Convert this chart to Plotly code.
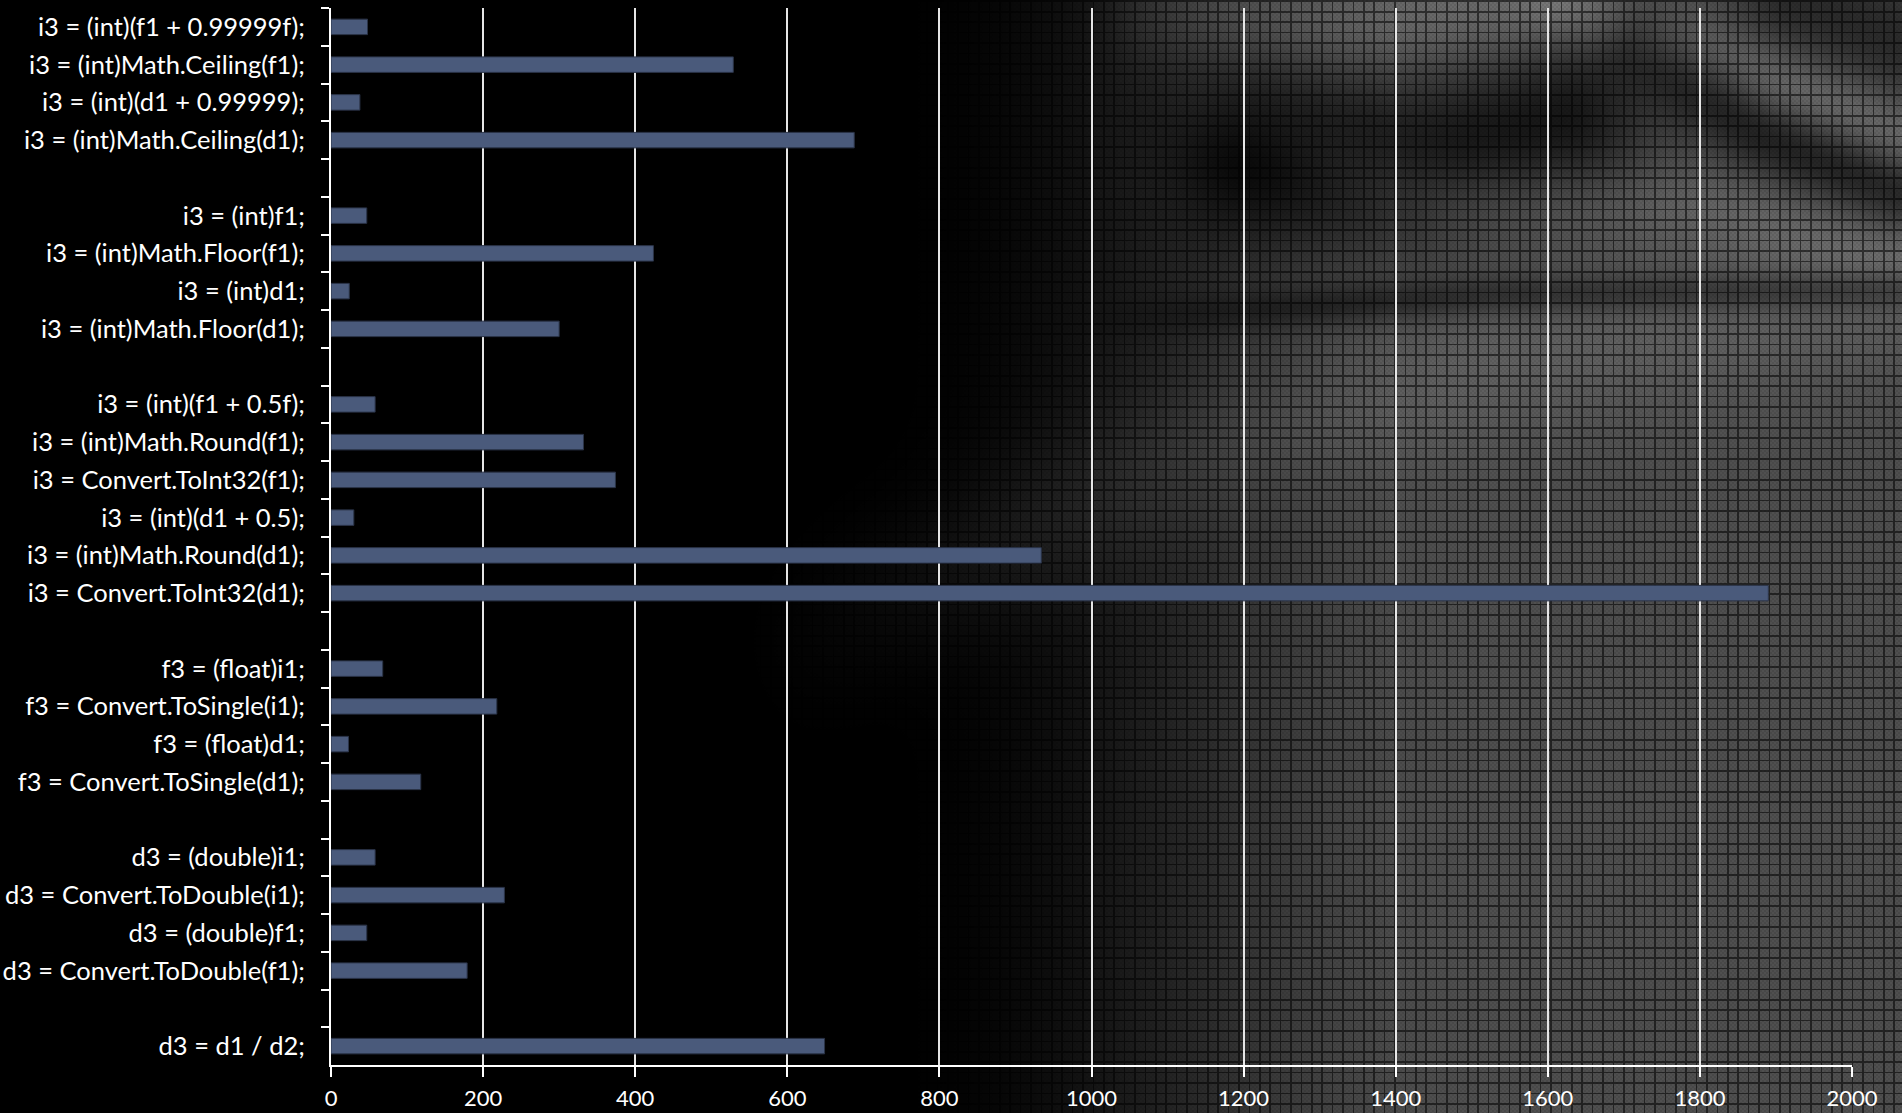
import base64
import struct
import zlib

import numpy as np
import plotly.graph_objects as go

# ---- benchmark data (time per operation, one list per group) ----
ceil_labels = [
    "i3 = (int)(f1 + 0.99999f);",
    "i3 = (int)Math.Ceiling(f1);",
    "i3 = (int)(d1 + 0.99999);",
    "i3 = (int)Math.Ceiling(d1);",
]
ceil_times = [48, 529, 38, 688]

floor_labels = [
    "i3 = (int)f1;",
    "i3 = (int)Math.Floor(f1);",
    "i3 = (int)d1;",
    "i3 = (int)Math.Floor(d1);",
]
floor_times = [47, 424, 24, 300]

round_labels = [
    "i3 = (int)(f1 + 0.5f);",
    "i3 = (int)Math.Round(f1);",
    "i3 = Convert.ToInt32(f1);",
    "i3 = (int)(d1 + 0.5);",
    "i3 = (int)Math.Round(d1);",
    "i3 = Convert.ToInt32(d1);",
]
round_times = [58, 332, 374, 30, 934, 1890]

single_labels = [
    "f3 = (float)i1;",
    "f3 = Convert.ToSingle(i1);",
    "f3 = (float)d1;",
    "f3 = Convert.ToSingle(d1);",
]
single_times = [68, 218, 23, 118]

double_labels = [
    "d3 = (double)i1;",
    "d3 = Convert.ToDouble(i1);",
    "d3 = (double)f1;",
    "d3 = Convert.ToDouble(f1);",
]
double_times = [58, 228, 47, 179]

div_labels = ["d3 = d1 / d2;"]
div_times = [649]

x_ticks = list(range(0, 2001, 200))

groups = [
    (ceil_labels, ceil_times),
    (floor_labels, floor_times),
    (round_labels, round_times),
    (single_labels, single_times),
    (double_labels, double_times),
    (div_labels, div_times),
]

# Flatten the groups, separating them with empty spacer rows
categories, values = [], []
for gi, (labs, vals) in enumerate(groups):
    if gi > 0:
        categories.append(" " * gi)
        values.append(None)
    categories.extend(labs)
    values.extend(vals)

FIG_W, FIG_H = 1902, 1113
M_L, M_R, M_T, M_B = 331, 50, 8, 48


# ---- textured background: dark on the left, gray tiled fabric on the right ----
def smoothstep(a, b, v):
    t = np.clip((v - a) / (b - a), 0.0, 1.0)
    return t * t * (3 - 2 * t)


def band(X, Y, pts, sigma):
    """Gaussian falloff around a polyline."""
    d = np.full(X.shape, 1e9)
    for (x0, y0), (x1, y1) in zip(pts[:-1], pts[1:]):
        dx, dy = x1 - x0, y1 - y0
        t = np.clip(((X - x0) * dx + (Y - y0) * dy) / (dx * dx + dy * dy), 0, 1)
        px, py = x0 + t * dx, y0 + t * dy
        d = np.minimum(d, np.hypot(X - px, Y - py))
    return np.exp(-0.5 * (d / sigma) ** 2)


Y, X = np.mgrid[0:FIG_H, 0:FIG_W].astype(np.float64)
val = 0.31 * smoothstep(860, 1460, X) ** 1.2
# faint beam rising from the middle of the chart
val += 0.07 * band(X, Y, [(780, 640), (1150, 470), (1500, 360), (1900, 290)], 55) * smoothstep(700, 1050, X)
# light sweeps and dark folds in the upper right
val += 0.12 * band(X, Y, [(1150, 10), (1350, 20), (1500, 10)], 40) * smoothstep(1000, 1250, X)
val += 0.16 * band(X, Y, [(1560, 0), (1720, 60), (1900, 140)], 28) * smoothstep(1300, 1600, X)
val -= 0.20 * band(X, Y, [(1640, 40), (1760, 130), (1900, 190)], 30) * smoothstep(1450, 1600, X)
val -= 0.22 * band(X, Y, [(1250, 150), (1420, 160), (1560, 120)], 60) * smoothstep(1050, 1300, X)
val += 0.08 * band(X, Y, [(1200, 110), (1450, 200), (1700, 205), (1900, 250)], 30) * smoothstep(1100, 1350, X)
val -= 0.14 * band(X, Y, [(1080, 320), (1500, 295), (1900, 290)], 14) * smoothstep(1050, 1400, X)
val -= 0.14 * band(X, Y, [(1790, 0), (1900, 40)], 45)
val = np.clip(val, 0, 1)

# woven grid texture
cell = 10.4
gx = np.mod(X, cell)
gy = np.mod(Y, cell)
line = ((gx < 1.6) | (gy < 1.6)).astype(np.float64)
checker = ((np.floor(X / 2) + np.floor(Y / 2)) % 2) * 0.08
tex = (1 - 0.55 * line) * (1 - checker)
img = np.clip(val * tex * 255, 0, 255).astype(np.uint8)


def to_png(a):
    h, w = a.shape
    raw = b"".join(b"\x00" + a[r].tobytes() for r in range(h))

    def chunk(tag, data):
        c = tag + data
        return struct.pack(">I", len(data)) + c + struct.pack(">I", zlib.crc32(c) & 0xFFFFFFFF)

    return (b"\x89PNG\r\n\x1a\n"
            + chunk(b"IHDR", struct.pack(">IIBBBBB", w, h, 8, 0, 0, 0, 0))
            + chunk(b"IDAT", zlib.compress(raw, 9))
            + chunk(b"IEND", b""))


bg_uri = "data:image/png;base64," + base64.b64encode(to_png(img)).decode()

PW = FIG_W - M_L - M_R
PH = FIG_H - M_T - M_B

FONT = "Lato"

fig = go.Figure(
    go.Bar(
        x=values,
        y=categories,
        orientation="h",
        width=0.41,
        marker=dict(color="#4a5a7b", line=dict(color="#2b3448", width=1)),
        hoverinfo="x+y",
    )
)

fig.update_layout(
    width=FIG_W,
    height=FIG_H,
    autosize=False,
    margin=dict(l=M_L, r=M_R, t=M_T, b=M_B, pad=0),
    paper_bgcolor="#000000",
    plot_bgcolor="rgba(0,0,0,0)",
    showlegend=False,
    font=dict(family=FONT, color="white"),
    images=[
        dict(
            source=bg_uri,
            xref="paper",
            yref="paper",
            x=-M_L / PW,
            y=1 + M_T / PH,
            sizex=FIG_W / PW,
            sizey=FIG_H / PH,
            xanchor="left",
            yanchor="top",
            sizing="stretch",
            layer="below",
        )
    ],
    xaxis=dict(
        range=[0, 2000],
        tickmode="array",
        tickvals=x_ticks,
        ticktext=[str(v) for v in x_ticks],
        showgrid=True,
        gridcolor="#e6e6e6",
        gridwidth=2,
        zeroline=False,
        showline=True,
        linecolor="white",
        linewidth=2,
        ticks="outside",
        ticklen=10,
        tickwidth=2,
        tickcolor="white",
        ticklabelstandoff=3,
        tickfont=dict(family=FONT, size=22, color="white"),
        automargin=False,
        fixedrange=True,
    ),
    yaxis=dict(
        type="category",
        categoryorder="array",
        categoryarray=categories,
        autorange="reversed",
        showgrid=False,
        zeroline=False,
        showline=True,
        linecolor="white",
        linewidth=2,
        ticks="outside",
        tickson="boundaries",
        ticklen=8,
        tickwidth=2,
        tickcolor="white",
        ticklabelstandoff=19,
        tickfont=dict(family=FONT, size=25.5, color="white"),
        automargin=False,
        fixedrange=True,
    ),
)

fig.write_html("out.html")
